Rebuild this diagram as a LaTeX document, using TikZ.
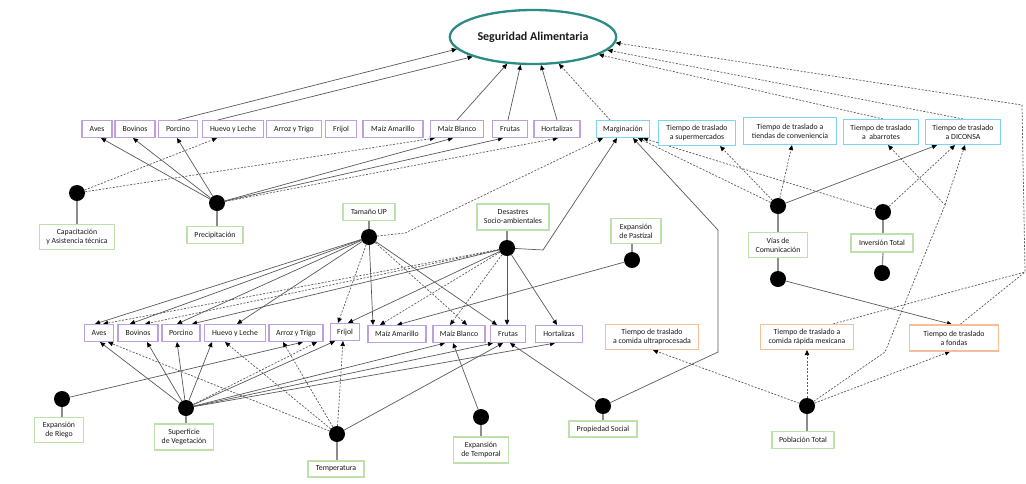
\documentclass[tikz,border=0pt]{standalone}
\usepackage{fontspec}
\setmainfont{Carlito}
\usetikzlibrary{arrows.meta,shapes.geometric}
\pgfdeclarelayer{background}
\pgfsetlayers{background,main}
\definecolor{boxpurple}{HTML}{BFA0DC}
\definecolor{boxblue}{HTML}{7DD3F0}
\definecolor{boxgreen}{HTML}{BEE0AA}
\definecolor{boxorange}{HTML}{F5BE96}
\definecolor{ringteal}{HTML}{2A8C82}
\begin{document}
\begin{tikzpicture}[x=1pt,y=-1pt,
  base/.style={draw, fill=white, line width=1.1pt, align=center, inner sep=1pt,
               font=\fontsize{7.8}{9}\selectfont, text=black!90},
  pbox/.style={base, draw=boxpurple, minimum height=17pt},
  bbox/.style={base, draw=boxblue, minimum height=17pt},
  gbox/.style={base, draw=boxgreen, minimum height=17pt},
  obox/.style={base, draw=boxorange, minimum height=25pt},
  dot/.style={circle, fill=black, minimum size=16pt, inner sep=0pt},
  stub/.style={draw=black!45, line width=1.2pt},
  sline/.style={draw=black!65, line width=0.7pt},
  dline/.style={sline, dash pattern=on 2pt off 1.5pt},
  arr/.style={sline, -{Triangle[length=5pt,width=4.5pt,color=black]}},
  darr/.style={arr, dash pattern=on 2pt off 1.5pt},
]
\useasboundingbox (0,0) rectangle (1026,483);

% central outcome
\node[ellipse, draw=ringteal, line width=2.3pt, minimum width=164pt, minimum height=54pt,
      font=\bfseries\fontsize{12}{14}\selectfont, text=black!90] (sa) at (533,37) {Seguridad Alimentaria};

% upper row of products
\node[pbox, minimum width=30pt] (a1)  at (97,129)  {Aves};
\node[pbox, minimum width=40pt] (b1)  at (135,129) {Bovinos};
\node[pbox, minimum width=39pt] (p1)  at (178,129) {Porcino};
\node[pbox, minimum width=61pt] (h1)  at (233,129) {Huevo y Leche};
\node[pbox, minimum width=55pt] (at1) at (294,129) {Arroz y Trigo};
\node[pbox, minimum width=31pt] (f1)  at (341,129) {Frijol};
\node[pbox, minimum width=60pt] (ma1) at (393,129) {Maíz Amarillo};
\node[pbox, minimum width=53pt] (mb1) at (457,129) {Maíz Blanco};
\node[pbox, minimum width=35pt] (fr1) at (510,129) {Frutas};
\node[pbox, minimum width=46pt] (ho1) at (557,129) {Hortalizas};

% access variables
\node[bbox, minimum width=53pt] (marg) at (623,129) {Marginación};
\node[bbox, minimum width=77pt, minimum height=25pt] (tsup) at (697,133) {Tiempo de traslado\\a supermercados};
\node[bbox, minimum width=93pt, minimum height=27pt] (ttie) at (790,131) {Tiempo de traslado a\\tiendas de conveniencia};
\node[bbox, minimum width=75pt, minimum height=25pt] (taba) at (881,132) {Tiempo de traslado\\a~~abarrotes};
\node[bbox, minimum width=75pt, minimum height=25pt] (tdic) at (963,132) {Tiempo de traslado\\a DICONSA};

% upper drivers
\node[gbox, minimum width=75pt, minimum height=25pt] (cap) at (77,237) {Capacitación\\y Asistencia técnica};
\node[gbox, minimum width=56pt] (pre) at (215,235) {Precipitación};
\node[gbox, minimum width=52pt] (tam) at (369,212) {Tamaño UP};
\node[gbox, minimum width=72pt, minimum height=26pt] (des) at (513,217) {Desastres\\Socio-ambientales};
\node[gbox, minimum width=50pt, minimum height=25pt] (pas) at (636,231) {Expansión\\de Pastizal};
\node[gbox, minimum width=59pt, minimum height=25pt] (vias) at (778,245) {Vías de\\Comunicación};
\node[gbox, minimum width=62pt, minimum height=18pt] (inv) at (882,243) {Inversión Total};

\node[dot] (dcap)   at (77,193)  {};
\node[dot] (dpre)   at (217,203) {};
\node[dot] (dtam)   at (369,237) {};
\node[dot] (ddes)   at (507,248) {};
\node[dot] (dpas)   at (632,260) {};
\node[dot] (dvias)  at (778,206) {};
\node[dot] (dvias2) at (778,279) {};
\node[dot] (dinv)   at (883,212) {};
\node[dot] (dinv2)  at (882,273) {};

% travel times to food outlets
\node[obox, minimum width=93pt] (tult) at (652,337) {Tiempo de traslado\\a comida ultraprocesada};
\node[obox, minimum width=93pt] (tmex) at (807,337) {Tiempo de traslado a\\comida rápida mexicana};
\node[obox, minimum width=89pt, minimum height=26pt] (tfon) at (954,338) {Tiempo de traslado\\a fondas};

% lower row of products
\node[pbox, minimum width=29pt] (a2)  at (99,333)  {Aves};
\node[pbox, minimum width=40pt] (b2)  at (138,333) {Bovinos};
\node[pbox, minimum width=38pt] (p2)  at (181,333) {Porcino};
\node[pbox, minimum width=61pt] (h2)  at (235,333) {Huevo y Leche};
\node[pbox, minimum width=54pt] (at2) at (296,333) {Arroz y Trigo};
\node[pbox, minimum width=29pt] (f2)  at (345,332) {Frijol};
\node[pbox, minimum width=58pt] (ma2) at (397,334) {Maíz Amarillo};
\node[pbox, minimum width=52pt] (mb2) at (459,334) {Maíz Blanco};
\node[pbox, minimum width=35pt] (fr2) at (508,334) {Frutas};
\node[pbox, minimum width=47pt] (ho2) at (559,334) {Hortalizas};

% lower drivers
\node[gbox, minimum width=49pt, minimum height=25pt] (rie) at (59,430)  {Expansión\\de Riego};
\node[gbox, minimum width=59pt, minimum height=26pt] (sup) at (184,437) {Superficie\\de Vegetación};
\node[gbox, minimum width=56pt, minimum height=16pt] (tem) at (336,469) {Temperatura};
\node[gbox, minimum width=55pt, minimum height=26pt] (tmp) at (481,450) {Expansión\\de Temporal};
\node[gbox, minimum width=68pt, minimum height=16pt] (pro) at (603,429) {Propiedad Social};
\node[gbox, minimum width=62pt] (pob) at (803,440) {Población Total};

\node[dot] (drie) at (62,399)  {};
\node[dot] (dsup) at (186,408) {};
\node[dot] (dtem) at (337,434) {};
\node[dot] (dtmp) at (481,417) {};
\node[dot] (dpro) at (603,406) {};
\node[dot] (dpob) at (807,406) {};

% bend points of routed connectors
\coordinate (kt)  at (405,233);
\coordinate (kd)  at (543,250);
\coordinate (kp1) at (718,352);
\coordinate (kp2) at (718,230);
\coordinate (kr1) at (1025,272);
\coordinate (kr2) at (1022,105);
\coordinate (kq1) at (885,352);
\coordinate (kq2) at (945,205);

\begin{pgfonlayer}{background}
% stubs joining each driver box to its dot
\draw[stub] (dcap) -- (dcap |- cap.north);
\draw[stub] (dpre) -- (dpre |- pre.north);
\draw[stub] (tam.south) -- (dtam);
\draw[stub] (ddes |- des.south) -- (ddes);
\draw[stub] (pas.south -| dpas) -- (dpas);
\draw[stub] (dvias) -- (vias.north);
\draw[stub] (vias.south) -- (dvias2);
\draw[stub] (dinv) -- (dinv |- inv.north);
\draw[stub] (dinv |- inv.south) -- (dinv2);
\draw[stub] (drie) -- (drie |- rie.north);
\draw[stub] (dsup) -- (dsup |- sup.north);
\draw[stub] (dtem) -- (dtem |- tem.north);
\draw[stub] (dtmp) -- (tmp.north);
\draw[stub] (dpro) -- (pro.north);
\draw[stub] (dpob) -- (dpob |- pob.north);

% into Seguridad Alimentaria
\draw[arr]  (p1.north) -- (sa.189);
\draw[arr]  ([xshift=-15pt]h1.north) -- (sa.198);
\draw[arr]  (mb1.north) -- (sa.226);
\draw[arr]  ([xshift=-2pt]fr1.north) -- (sa.246);
\draw[arr]  (ho1.north) -- (sa.286);
\draw[darr] ([xshift=-13pt]marg.north) -- (sa.314);
\draw[darr] ([xshift=2pt]taba.north) -- (sa.345);
\draw[darr] (tdic.north) -- (sa.350);
\draw[darr] ([xshift=26pt]tmex.north) -- (kr1) -- (kr2) -- (sa.356);
\draw[dline] ([xshift=6pt]tfon.north) -- (kr1);

% Precipitación and Capacitación to the upper products
\draw[arr]  (dpre) -- ([xshift=4pt]a1.south);
\draw[arr]  (dpre) -- ([xshift=-2pt]b1.south);
\draw[arr]  (dpre) -- ([xshift=-1pt]p1.south);
\draw[arr]  (dpre) -- ([xshift=-4pt]mb1.south);
\draw[arr]  (dpre) -- ([xshift=-7pt]fr1.south);
\draw[darr] (dpre) -- ([xshift=1pt]ho1.south);
\draw[darr] (dcap) -- ([xshift=-16pt]h1.south);
\draw[darr] (dcap) -- ([xshift=-22pt]mb1.south);

% into Marginación
\draw[darr] (dtam) -- (kt) -- ([xshift=-20pt]marg.south);
\draw[arr]  (ddes) -- (kd) -- ([xshift=-6pt]marg.south);
\draw[arr]  (dpro) -- (kp1) -- (kp2) -- ([xshift=10pt]marg.south);
\draw[darr] (dvias) -- ([xshift=15pt]marg.south);
\draw[darr] (dinv) -- ([xshift=20pt]marg.south);

% Vías de Comunicación and Inversión Total to travel times
\draw[darr] (dvias) -- ([xshift=23pt]tsup.south);
\draw[darr] (dvias) -- ([xshift=2pt]ttie.south);
\draw[arr]  (dvias) -- ([xshift=-26pt]tdic.south);
\draw[darr] (dinv) -- ([xshift=-8pt]tdic.south);
\draw[arr]  (dvias2) -- ([xshift=-2pt]tfon.north);

% Población Total
\draw[darr] (dpob) -- ([xshift=1pt]tult.south);
\draw[darr] (dpob) -- (tmex.south);
\draw[darr] (dpob) -- ([xshift=-4pt]tfon.south);
\draw[darr] (dpob) -- (kq1) -- (kq2) -- ([xshift=7pt]taba.south);
\draw[darr] (kq2) -- ([xshift=2pt]tdic.south);

% Tamaño UP to the lower products
\draw[arr]  (dtam) -- ([xshift=-4pt]a2.north);
\draw[arr]  (dtam) -- ([xshift=-8pt]b2.north);
\draw[arr]  (dtam) -- ([xshift=-4pt]p2.north);
\draw[arr]  (dtam) -- ([xshift=2pt]h2.north);
\draw[darr] (dtam) -- ([xshift=-7pt]f2.north);
\draw[arr]  (dtam) -- ([xshift=-24pt]ma2.north);
\draw[darr] (dtam) -- ([xshift=8pt]mb2.north);
\draw[arr]  (dtam) -- ([xshift=-11pt]fr2.north);

% Desastres Socio-ambientales to the lower products
\draw[darr] (ddes) -- ([xshift=4pt]a2.north);
\draw[darr] (ddes) -- ([xshift=7pt]b2.north);
\draw[arr]  (ddes) -- ([xshift=11pt]p2.north);
\draw[arr]  (ddes) -- ([xshift=3pt]f2.north);
\draw[darr] (ddes) -- ([xshift=-17pt]ma2.north);
\draw[darr] (ddes) -- ([xshift=-9pt]mb2.north);
\draw[arr]  (ddes) -- ([xshift=-1pt]fr2.north);
\draw[arr]  (ddes) -- ([xshift=-2pt]ho2.north);
\draw[arr]  (dpas) -- (ma2.north);

% drivers below the lower products
\draw[arr]  (drie) -- ([xshift=7pt]at2.south);
\draw[arr]  (dsup) -- ([xshift=1pt]a2.south);
\draw[arr]  (dsup) -- ([xshift=9pt]b2.south);
\draw[arr]  (dsup) -- ([xshift=-4pt]p2.south);
\draw[arr]  (dsup) -- ([xshift=-23pt]h2.south);
\draw[darr] (dsup) -- ([xshift=21pt]at2.south);
\draw[arr]  (dsup) -- ([xshift=-10pt]f2.south);
\draw[arr]  (dsup) -- ([xshift=-14pt]mb2.south);
\draw[arr]  (dsup) -- ([xshift=-15pt]fr2.south);
\draw[arr]  (dsup) -- ([xshift=-4pt]ho2.south);
\draw[darr] (dtem) -- ([xshift=9pt]a2.south);
\draw[darr] (dtem) -- ([xshift=-10pt]h2.south);
\draw[darr] (dtem) -- ([xshift=-13pt]at2.south);
\draw[darr] (dtem) -- ([xshift=-2pt]f2.south);
\draw[arr]  (dtem) -- ([xshift=-5pt]fr2.south);
\draw[arr]  (dtmp) -- ([xshift=-6pt]mb2.south);
\draw[arr]  (dpro) -- ([xshift=2pt]fr2.south);
\end{pgfonlayer}
\end{tikzpicture}
\end{document}
